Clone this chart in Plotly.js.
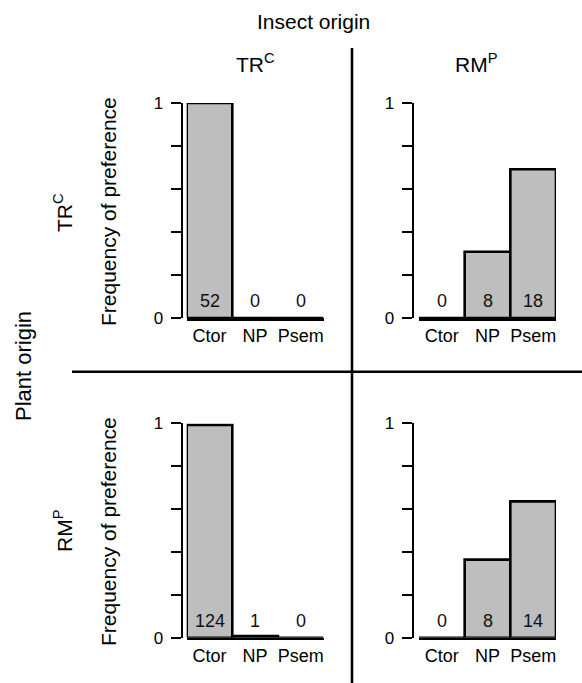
<!DOCTYPE html>
<html>
<head>
<meta charset="utf-8">
<script src="https://cdn.plot.ly/plotly-3.0.1.min.js"></script>
<style>html,body{margin:0;padding:0;background:#fff}#chart{width:582px;height:683px}</style>
</head>
<body>
<div id="chart"></div>
<script>
// Data
var categories = ['Ctor', 'NP', 'Psem'];
// rows: plant origin; columns: insect origin
var freqPlantTR_InsectTR = [1.0, 0.0, 0.0];
var countPlantTR_InsectTR = [52, 0, 0];
var freqPlantTR_InsectRM = [0.0, 0.308, 0.692];
var countPlantTR_InsectRM = [0, 8, 18];
var freqPlantRM_InsectTR = [0.992, 0.008, 0.0];
var countPlantRM_InsectTR = [124, 1, 0];
var freqPlantRM_InsectRM = [0.0, 0.364, 0.636];
var countPlantRM_InsectRM = [0, 8, 14];
var yTickVals = [0, 0.2, 0.4, 0.6, 0.8, 1];
var yTickText = ['0', '', '', '', '', '1'];

var W = 582, H = 683;
function px(x) { return x / W; }
function py(y) { return 1 - y / H; }
var FONT = 'Liberation Sans, Arial, Helvetica, sans-serif';

var panels = [
  {freq: freqPlantTR_InsectTR, cnt: countPlantTR_InsectTR, xa: 'x', ya: 'y', xd: [186.7, 323.5], yd: [318, 103], ypos: 181.5},
  {freq: freqPlantTR_InsectRM, cnt: countPlantTR_InsectRM, xa: 'x2', ya: 'y2', xd: [419, 556], yd: [318, 103], ypos: 412.7},
  {freq: freqPlantRM_InsectTR, cnt: countPlantRM_InsectTR, xa: 'x3', ya: 'y3', xd: [186.7, 323.5], yd: [637.7, 423.3], ypos: 181.5},
  {freq: freqPlantRM_InsectRM, cnt: countPlantRM_InsectRM, xa: 'x4', ya: 'y4', xd: [419, 556], yd: [637.7, 423.3], ypos: 412.7}
];

var traces = [];
var layout = {
  width: W, height: H,
  margin: {l: 0, r: 0, t: 0, b: 0},
  paper_bgcolor: '#fff', plot_bgcolor: 'rgba(0,0,0,0)',
  showlegend: false,
  bargap: 0,
  font: {family: FONT, color: '#000', size: 18},
  annotations: [],
  shapes: []
};

panels.forEach(function (p, i) {
  traces.push({
    type: 'bar', x: categories, y: p.freq, xaxis: p.xa, yaxis: p.ya,
    width: 1, cliponaxis: false,
    marker: {color: '#bebebe', line: {color: '#000', width: 2.6}},
    hoverinfo: 'skip'
  });
  var xk = 'xaxis' + (i === 0 ? '' : (i + 1));
  var yk = 'yaxis' + (i === 0 ? '' : (i + 1));
  layout[xk] = {
    domain: [px(p.xd[0]), px(p.xd[1])], anchor: p.ya, type: 'category',
    range: [-0.5, 2.5], showline: true, linecolor: '#000', linewidth: 2.6,
    ticks: '', showgrid: false, zeroline: false, fixedrange: true,
    tickfont: {size: 18, family: FONT, color: '#000'}, ticklabelstandoff: 0
  };
  layout[yk] = {
    domain: [py(p.yd[0]), py(p.yd[1])], anchor: 'free', position: px(p.ypos),
    range: [0, 1], showline: true, linecolor: '#000', linewidth: 2.6,
    tickvals: yTickVals, ticktext: yTickText, ticks: 'outside', ticklen: 10,
    tickwidth: 2.4, tickcolor: '#000', showgrid: false, zeroline: false, fixedrange: true,
    tickfont: {size: 17, family: FONT, color: '#000'}, ticklabelstandoff: 4
  };
  categories.forEach(function (c, j) {
    layout.annotations.push({
      x: c, y: 0, xref: p.xa, yref: p.ya, text: String(p.cnt[j]),
      showarrow: false, yanchor: 'bottom', xanchor: 'center', yshift: 5,
      font: {size: 18, family: FONT, color: '#111'}
    });
  });
});

function lab(text, x, y, size, angle) {
  layout.annotations.push({
    text: text, x: px(x), y: py(y), xref: 'paper', yref: 'paper',
    xanchor: 'center', yanchor: 'middle', showarrow: false,
    textangle: angle || 0, font: {size: size, family: FONT, color: '#000'}
  });
}
lab('Insect origin', 313, 22, 21);
lab('TR<sup>C</sup>', 255, 63, 21);
lab('RM<sup>P</sup>', 476, 63, 21);
lab('Plant origin', 23, 366, 22, -90);
lab('TR<sup>C</sup>', 63, 213, 21, -90);
lab('RM<sup>P</sup>', 63, 531, 21, -90);
lab('Frequency of preference', 108, 212, 21, -90);
lab('Frequency of preference', 108, 532, 21, -90);

layout.shapes.push({type: 'line', xref: 'paper', yref: 'paper', x0: px(352), x1: px(352), y0: py(48), y1: 0, line: {color: '#000', width: 2.6}});
layout.shapes.push({type: 'line', xref: 'paper', yref: 'paper', x0: px(72), x1: 1, y0: py(371.7), y1: py(371.7), line: {color: '#000', width: 2.6}});

Plotly.newPlot('chart', traces, layout, {staticPlot: true, displayModeBar: false});
</script>
</body>
</html>
